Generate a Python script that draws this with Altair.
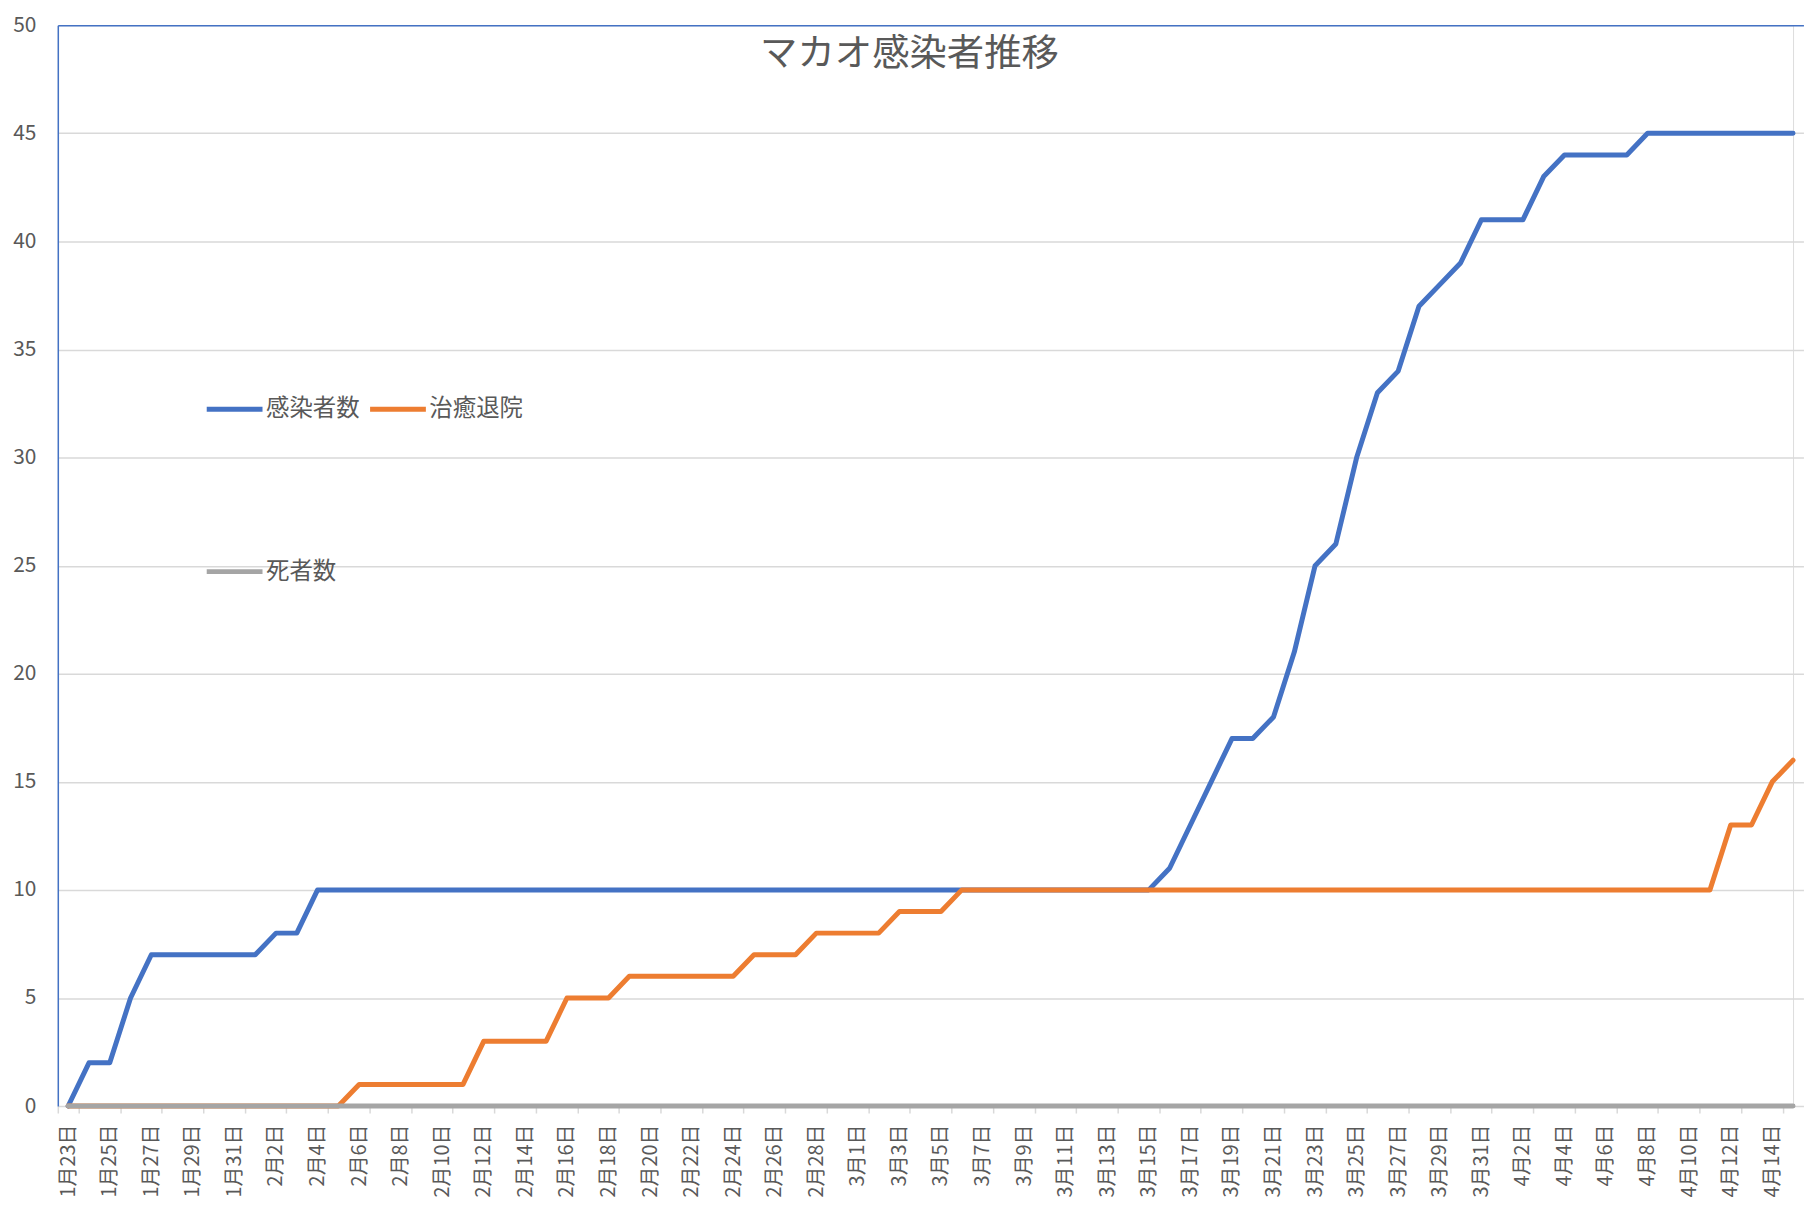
import altair as alt
import pandas as pd

dates = [
    "1月23日", "1月24日", "1月25日", "1月26日", "1月27日", "1月28日", "1月29日", "1月30日", "1月31日",
    "2月1日", "2月2日", "2月3日", "2月4日", "2月5日", "2月6日", "2月7日", "2月8日", "2月9日", "2月10日",
    "2月11日", "2月12日", "2月13日", "2月14日", "2月15日", "2月16日", "2月17日", "2月18日", "2月19日",
    "2月20日", "2月21日", "2月22日", "2月23日", "2月24日", "2月25日", "2月26日", "2月27日", "2月28日",
    "2月29日",
    "3月1日", "3月2日", "3月3日", "3月4日", "3月5日", "3月6日", "3月7日", "3月8日", "3月9日", "3月10日",
    "3月11日", "3月12日", "3月13日", "3月14日", "3月15日", "3月16日", "3月17日", "3月18日", "3月19日",
    "3月20日", "3月21日", "3月22日", "3月23日", "3月24日", "3月25日", "3月26日", "3月27日", "3月28日",
    "3月29日", "3月30日", "3月31日",
    "4月1日", "4月2日", "4月3日", "4月4日", "4月5日", "4月6日", "4月7日", "4月8日", "4月9日", "4月10日",
    "4月11日", "4月12日", "4月13日", "4月14日", "4月15日",
]

infected = [
    0, 2, 2, 5, 7, 7, 7, 7, 7,
    7, 8, 8, 10, 10, 10, 10, 10, 10, 10,
    10, 10, 10, 10, 10, 10, 10, 10, 10,
    10, 10, 10, 10, 10, 10, 10, 10, 10,
    10,
    10, 10, 10, 10, 10, 10, 10, 10, 10, 10,
    10, 10, 10, 10, 10, 11, 13, 15, 17,
    17, 18, 21, 25, 26, 30, 33, 34, 37,
    38, 39, 41,
    41, 41, 43, 44, 44, 44, 44, 45, 45, 45,
    45, 45, 45, 45, 45,
]

recovered = [
    0, 0, 0, 0, 0, 0, 0, 0, 0,
    0, 0, 0, 0, 0, 1, 1, 1, 1, 1,
    1, 3, 3, 3, 3, 5, 5, 5, 6,
    6, 6, 6, 6, 6, 7, 7, 7, 8,
    8,
    8, 8, 9, 9, 9, 10, 10, 10, 10, 10,
    10, 10, 10, 10, 10, 10, 10, 10, 10,
    10, 10, 10, 10, 10, 10, 10, 10, 10,
    10, 10, 10,
    10, 10, 10, 10, 10, 10, 10, 10, 10, 10,
    10, 13, 13, 15, 16,
]

deaths = [0] * len(dates)

series_names = ["感染者数", "治癒退院", "死者数"]
series_colors = ["#4472C4", "#ED7D31", "#A5A5A5"]
label_dates = dates[0:83:2]
chart_title = "マカオ感染者推移"

rows = []
for name, vals in zip(series_names, [infected, recovered, deaths]):
    for d, v in zip(dates, vals):
        rows.append({"date": d, "value": v, "series": name})
df = pd.DataFrame(rows)

FONT = "Noto Sans CJK JP"
TEXT = "#595959"
W = 1742
H = 1085
STEP = W / (len(dates) - 0.5)  # last category centre sits on the right edge

x_enc = alt.X(
    "date:N",
    sort=dates,
    scale=alt.Scale(domain=dates, range=[0, STEP * len(dates)], paddingInner=0, paddingOuter=0),
    axis=alt.Axis(
        title=None,
        values=label_dates,
        labelAngle=-90,
        labelFontSize=20,
        labelFont=FONT,
        labelColor=TEXT,
        labelPadding=11,
        tickBand="extent",
        ticks=True,
        tickSize=7,
        tickColor="#D9D9D9",
        tickWidth=1.5,
        domain=False,
        grid=False,
        labelOverlap=False,
    ),
)

y_enc = alt.Y(
    "value:Q",
    scale=alt.Scale(domain=[0, 50], nice=False),
    axis=alt.Axis(
        title=None,
        values=[0, 5, 10, 15, 20, 25, 30, 35, 40, 45, 50],
        labelFontSize=21,
        labelFont=FONT,
        labelColor=TEXT,
        labelPadding=22,
        ticks=False,
        domainColor="#4472C4",
        domainWidth=1.5,
        grid=True,
        gridColor=alt.condition("datum.value == 50", alt.value("#4472C4"), alt.value("#D9D9D9")),
        gridWidth=1.5,
    ),
)

color_enc = alt.Color(
    "series:N",
    scale=alt.Scale(domain=series_names, range=series_colors),
    legend=alt.Legend(
        title=None,
        orient="none",
        legendX=147,
        legendY=355,
        columns=2,
        direction="horizontal",
        symbolType="stroke",
        symbolSize=3136,
        symbolStrokeWidth=5,
        labelFont=FONT,
        labelFontSize=23.5,
        labelColor=TEXT,
        labelOffset=1,
        columnPadding=0,
        rowPadding=121,
        padding=0,
    ),
)

layers = []
for name in series_names:
    layers.append(
        alt.Chart(df)
        .transform_filter(alt.datum.series == name)
        .mark_line(strokeWidth=5, strokeCap="round", strokeJoin="round")
        .encode(x=x_enc, y=y_enc, color=color_enc)
    )

title_layer = (
    alt.Chart(pd.DataFrame({"title": [chart_title]}))
    .mark_text(font=FONT, fontSize=37.5, color=TEXT, align="center", baseline="middle")
    .encode(text="title:N", x=alt.value(855), y=alt.value(30))
)

chart = (
    alt.layer(*layers, title_layer)
    .properties(
        width=W,
        height=H,
        padding={"left": 4, "right": 0, "top": 4, "bottom": 0},
    )
    .configure_view(strokeWidth=0, stroke="transparent")
    .configure(background="white")
)

chart.save("out.html", embed_options={"renderer": "svg", "actions": False})
